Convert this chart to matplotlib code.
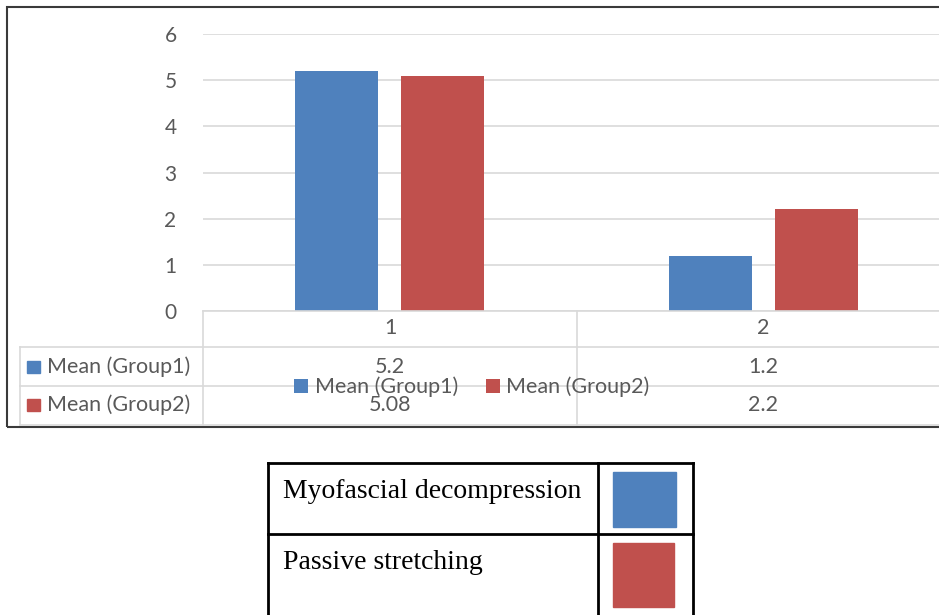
import matplotlib.pyplot as plt
from matplotlib.patches import Rectangle
from matplotlib.lines import Line2D

categories = ["1", "2"]
group1 = [5.2, 1.2]
group2 = [5.08, 2.2]
series_names = ["Mean (Group1)", "Mean (Group2)"]
value_labels = [["5.2", "1.2"], ["5.08", "2.2"]]
legend_names = ["Myofascial decompression", "Passive stretching"]

blue = "#4f81bd"
red = "#c0504d"
grey_txt = "#595959"
grid_c = "#d9d9d9"
fs = 15.5

W, H = 939, 615
fig = plt.figure(figsize=(W / 100, H / 100), dpi=100)
plt.rcParams["font.family"] = ["Lato", "DejaVu Sans"]


# pixel helpers (origin top-left)
def fx(x):
    return x / W


def fy(y):
    return 1 - y / H


# plot area: x 203 -> 950, y 34 (value 6) -> 311 (value 0)
ax = fig.add_axes([fx(203), fy(311), (950 - 203) / W, (311 - 34) / H])
ax.set_xlim(-0.5, 1.5)
ax.set_ylim(0, 6)
bw = 0.223
off = 0.142
xs = list(range(len(categories)))
b1 = ax.bar([x - off for x in xs], group1, bw, color=blue, label=series_names[0], zorder=3)
b2 = ax.bar([x + off for x in xs], group2, bw, color=red, label=series_names[1], zorder=3)
ax.set_yticks(range(0, 7))
ax.set_xticks([])
ax.grid(axis="y", color=grid_c, linewidth=1.2, zorder=0)
for s in ax.spines.values():
    s.set_visible(False)
ax.tick_params(axis="y", length=0, pad=19, labelsize=15, labelcolor=grey_txt)

# outer chart frame
fig.patches.append(Rectangle((fx(7), fy(427)), fx(960 - 7), (427 - 7) / H,
                             transform=fig.transFigure, fill=False,
                             edgecolor="#3a3a3a", linewidth=1.5))


def hline(y, x0, x1, c=grid_c, lw=1.2):
    fig.lines.append(Line2D([fx(x0), fx(x1)], [fy(y), fy(y)], transform=fig.transFigure,
                            color=c, linewidth=lw))


def vline(x, y0, y1, c=grid_c, lw=1.2):
    fig.lines.append(Line2D([fx(x), fx(x)], [fy(y0), fy(y1)], transform=fig.transFigure,
                            color=c, linewidth=lw))


# data table under the axis
hline(311, 203, 945)
for y in (347, 386, 425):
    hline(y, 20, 945)
vline(20, 347, 425)
vline(203, 311, 425)
vline(577, 311, 425)

col_x = [390, 763]
for cx, cat in zip(col_x, categories):
    fig.text(fx(cx), fy(328), cat, ha="center", va="center", fontsize=fs, color=grey_txt)

row_y = [367, 405]
for ry, name, col, vals in zip(row_y, series_names, [blue, red], value_labels):
    fig.patches.append(Rectangle((fx(27), fy(ry + 6)), 13 / W, 12 / H,
                                 transform=fig.transFigure, color=col))
    fig.text(fx(47), fy(ry), name, ha="left", va="center", fontsize=fs, color=grey_txt)
    for cx, v in zip(col_x, vals):
        fig.text(fx(cx), fy(ry), v, ha="center", va="center", fontsize=fs, color=grey_txt)

fig.legend(handles=[b1, b2], loc="center", bbox_to_anchor=(fx(472), fy(387)), ncol=2,
           frameon=False, fontsize=fs, labelcolor=grey_txt, handlelength=0.65,
           handleheight=0.65, handletextpad=0.3, columnspacing=1.3)

# separate colour key table below the chart
hline(463, 268, 693, c="black", lw=2)
hline(534, 268, 693, c="black", lw=2)
vline(268, 463, 620, c="black", lw=2)
vline(598, 463, 620, c="black", lw=2)
vline(693, 463, 620, c="black", lw=2)

fig.text(fx(283), fy(498), legend_names[0], ha="left", va="baseline", fontsize=20,
         family="Liberation Serif", color="black")
fig.text(fx(283), fy(569), legend_names[1], ha="left", va="baseline", fontsize=20,
         family="Liberation Serif", color="black")
fig.patches.append(Rectangle((fx(613), fy(527)), 63 / W, 55 / H,
                             transform=fig.transFigure, color=blue))
fig.patches.append(Rectangle((fx(613), fy(607)), 61 / W, 64 / H,
                             transform=fig.transFigure, color=red))

fig.savefig("out.png", dpi=100)
